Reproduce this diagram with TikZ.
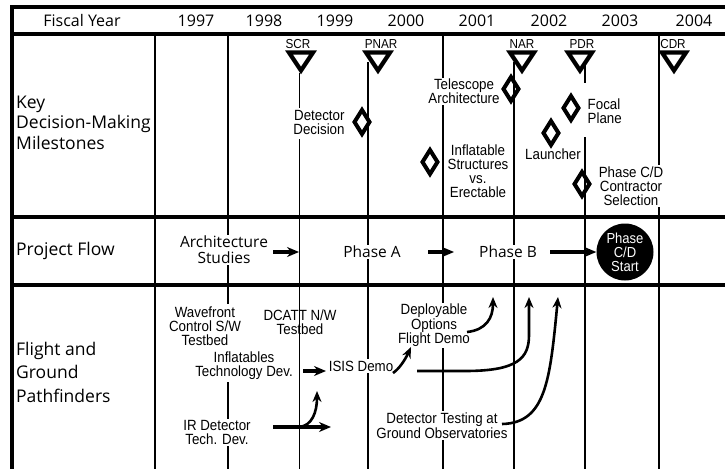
\documentclass[tikz,border=0pt]{standalone}
\usepackage{fontspec}
\setmainfont{Open Sans}
\newfontfamily\nf[FakeStretch=0.9]{Liberation Sans}
\usetikzlibrary{arrows.meta}
\begin{document}
\begin{tikzpicture}[x=1pt,y=-1pt,
  grid/.style={line width=1.4pt},
  heavy/.style={line width=3.6pt},
  tri/.style={line width=4.2pt, line join=miter, miter limit=10},
  dia/.style={line width=4pt, line join=miter, miter limit=10},
  lbl/.style={font=\nf\fontsize{14.8}{13.8}\selectfont, align=center, inner sep=1.5pt},
  wlbl/.style={lbl, fill=white},
  tag/.style={font=\nf\fontsize{13}{13}\selectfont, inner sep=1pt},
  flow/.style={font=\fontsize{15.5}{16}\selectfont, align=center, inner sep=1.5pt, fill=white},
  rowlbl/.style={align=left, anchor=west, inner sep=0pt},
  hdr/.style={font=\fontsize{16}{16}\selectfont, inner sep=0pt},
  arr/.style={line width=3.4pt, -{Stealth[length=12pt,width=10pt]}},
  carr/.style={line width=2.6pt, -{Stealth[length=11pt,width=9pt]}},
]
\useasboundingbox (0,0) rectangle (725,469);
\fill[white] (0,0) rectangle (725,469);

% ---- grid: vertical year lines
\draw[grid] (155,34) -- (155,469);
\draw[grid] (228,34) -- (228,304);
\draw[grid] (228,382) -- (228,469);
\draw[grid] (299.5,73) -- (299.5,108);
\draw[grid] (299.5,139) -- (299.5,469);
\draw[grid] (368,62) -- (368,469);
\draw[grid] (443,34) -- (443,469);
\draw[grid] (514,62) -- (514,469);
\draw[grid] (585,62) -- (585,83);
\draw[grid] (585,137) -- (585,469);
\draw[grid] (659,34) -- (659,469);

% ---- heavy frame lines
\draw[heavy] (10,7) -- (725,7);
\draw[heavy] (11.8,5.2) -- (11.8,469);
\draw[heavy] (10,34) -- (725,34);
\draw[heavy] (10,217) -- (725,217);
\draw[heavy] (10,285) -- (725,285);

% ---- header
\node[hdr] (fy) at (82,20.5) {Fiscal Year};
\foreach \yr/\xx in {1997/196,1998/264,1999/335,2000/406,2001/477,2002/549,2003/620,2004/694}
  \node[hdr] (y\yr) at (\xx,20.5) {\yr};

% ---- row labels
\node[rowlbl, font=\fontsize{17.5}{20.5}\selectfont] (rkey) at (16,122.5) {Key\\Decision-Making\\Milestones};
\node[rowlbl, font=\fontsize{17.5}{20.5}\selectfont] (rpf) at (16,251) {Project Flow};
\node[rowlbl, font=\fontsize{17.5}{23.5}\selectfont] (rfg) at (16,372) {Flight and\\Ground\\Pathfinders};

% ---- review milestones (triangles)
\node[tag] (tscr) at (298,44) {SCR};
\node[tag] (tpnar) at (381,44) {PNAR};
\node[tag] (tnar) at (522,44) {NAR};
\node[tag] (tpdr) at (582,44) {PDR};
\node[tag] (tcdr) at (673,44) {CDR};
\draw[tri] (289,52.5) -- (313,52.5) -- (301,70.5) -- cycle;
\draw[tri] (366,52.5) -- (390,52.5) -- (378,70.5) -- cycle;
\draw[tri] (510,52.5) -- (534,52.5) -- (522,70.5) -- cycle;
\draw[tri] (568,52.5) -- (592,52.5) -- (580,70.5) -- cycle;
\draw[tri] (662,52.5) -- (686,52.5) -- (674,70.5) -- cycle;

% ---- decision milestones (diamonds)
\draw[dia] (362,110) -- (369.5,122) -- (362,134) -- (354.5,122) -- cycle;
\draw[dia] (511,77) -- (518.5,89) -- (511,101) -- (503.5,89) -- cycle;
\draw[dia] (571,96) -- (578.5,108) -- (571,120) -- (563.5,108) -- cycle;
\draw[dia] (551,121) -- (558.5,133) -- (551,145) -- (543.5,133) -- cycle;
\draw[dia] (430,150) -- (437.5,162) -- (430,174) -- (422.5,162) -- cycle;
\draw[dia] (582,172) -- (589.5,184) -- (582,196) -- (574.5,184) -- cycle;

\node[wlbl, align=right] (ddec) at (319,122.5) {Detector\\Decision};
\node[wlbl] (tele) at (464,91.5) {Telescope\\Architecture};
\node[lbl, align=left, anchor=west] (focal) at (586,111) {Focal\\Plane};
\node[lbl] (laun) at (553,154) {Launcher};
\node[wlbl, font=\nf\fontsize{14.8}{14}\selectfont] (infl) at (478,171) {Inflatable\\Structures\\vs.\\Erectable};
\node[wlbl, font=\nf\fontsize{14.8}{14}\selectfont] (pcd) at (631,186) {Phase C/D\\Contractor\\Selection};

% ---- project flow
\node[flow] (arch) at (224,250) {Architecture\\Studies};
\node[flow] (pha) at (372,252) {Phase A};
\node[flow] (phb) at (508,252) {Phase B};
\node[circle, fill=black, minimum size=57pt, inner sep=0pt, text=white, align=center,
      font=\nf\fontsize{14.5}{14}\selectfont] (cd) at (625,252) {Phase\\C/D\\Start};
\coordinate (a1s) at (273,252); \coordinate (a1e) at (299,252);
\coordinate (a2s) at (428,252); \coordinate (a2e) at (454,252);
\coordinate (a3s) at (550,252);
\draw[arr] (a1s) -- (a1e);
\draw[arr] (a2s) -- (a2e);
\draw[arr, line width=3.6pt] (a3s) -- (cd.west);

% ---- flight and ground pathfinders
\node[wlbl] (wave) at (205,326.5) {Wavefront\\Control S/W\\Testbed};
\node[lbl] (dcatt) at (300,322.5) {DCATT N/W\\Testbed};
\node[wlbl] (inft) at (244,366) {Inflatables\\Technology Dev.};
\node[wlbl] (isis) at (361,366) {ISIS Demo};
\node[wlbl] (irdet) at (217,432.5) {IR Detector\\Tech. Dev.};
\node[wlbl, font=\nf\fontsize{14.8}{14.5}\selectfont] (depl) at (434,325.5) {Deployable\\Options\\Flight Demo};
\node[wlbl, font=\nf\fontsize{14.8}{15}\selectfont] (dtest) at (442,425.5) {Detector Testing at\\Ground Observatories};

\coordinate (b1s) at (303,371); \coordinate (b1e) at (326,371);
\coordinate (b2s) at (273,427); \coordinate (b2e) at (331,427);
\coordinate (b3s) at (299,427); \coordinate (b3e) at (317,391);
\coordinate (b4s) at (393,373); \coordinate (b4e) at (411,347);
\coordinate (b5s) at (467,332); \coordinate (b5e) at (493,297);
\coordinate (b6s) at (417,371); \coordinate (b6e) at (529,297);
\coordinate (b7s) at (502,424); \coordinate (b7e) at (558,297);

\draw[arr] (b1s) -- (b1e);
\draw[arr] (b2s) -- (b2e);
\draw[carr] (b3s) .. controls (312,426) and (317,412) .. (b3e);
\draw[carr] (b4s) .. controls (399,369) and (405,360) .. (b4e);
\draw[carr] (b5s) .. controls (486,330) and (493,318) .. (b5e);
\draw[carr] (b6s) -- (465,371) .. controls (518,371) and (529,358) .. (529,335) -- (b6e);
\draw[carr] (b7s) .. controls (546,423) and (550,380) .. (b7e);
\end{tikzpicture}
\end{document}
